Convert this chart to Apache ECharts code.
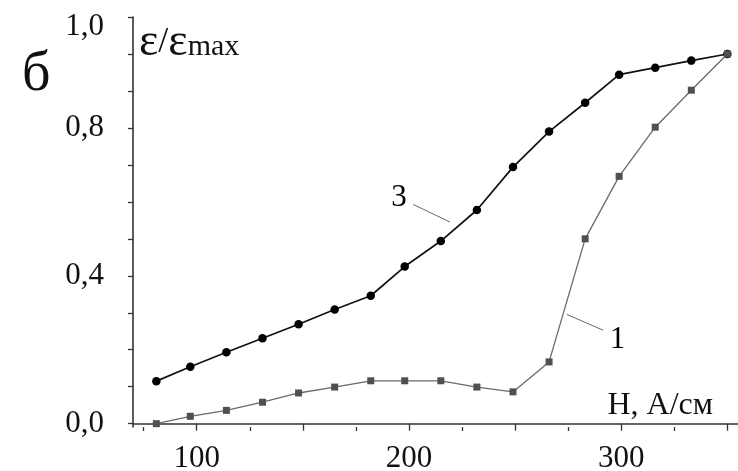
<!DOCTYPE html>
<html>
<head>
<meta charset="utf-8">
<script src="https://cdn.jsdelivr.net/npm/echarts@6/dist/echarts.min.js"></script>
<style>html,body{margin:0;padding:0;background:#fff}#c{width:738px;height:471px}</style>
</head>
<body>
<div id="c"></div>
<script>
// ---- data ----
const H = [81, 97, 114, 131, 148, 165, 182, 198, 215, 232, 249, 266, 283, 299, 316, 333, 350];
const curve3 = [0.115, 0.154, 0.193, 0.231, 0.269, 0.309, 0.346, 0.425, 0.494, 0.578, 0.694, 0.790, 0.868, 0.944, 0.963, 0.982, 1.0];
const curve1 = [0.0, 0.020, 0.036, 0.058, 0.083, 0.099, 0.116, 0.116, 0.116, 0.099, 0.086, 0.167, 0.500, 0.669, 0.802, 0.902, 1.0];
const xMajorTicks = [100, 150, 200, 250, 300, 350];
const xMinorTicks = [75, 125, 175, 225, 275, 325];
const xLabels = [100, 200, 300];
const yTicks = [0, 0.1, 0.2, 0.3, 0.4, 0.5, 0.6, 0.7, 0.8, 0.9, 1.0, 1.1];
const yLabels = [0, 0.4, 0.8, 1.0];
const leader3 = [[202, 0.593], [219.3, 0.5455]];
const leader1 = [[274.3, 0.2958], [291.5, 0.2526]];
const label3 = [195.3, 0.61, '3'];
const label1 = [298.2, 0.228, '1'];

const FONT = 'Liberation Serif';
const TXT = '#111';
const AX = '#333';

const chart = echarts.init(document.getElementById('c'));
const zip = (xs, ys) => xs.map((x, i) => [x, ys[i]]);

chart.setOption({
  animation: false,
  backgroundColor: '#fff',
  title: {
    text: 'б', left: 17, top: 42,
    textStyle: { fontFamily: FONT, fontSize: 56, fontWeight: 'normal', color: TXT }
  },
  grid: { left: 133, top: 17, width: 605, height: 410, outerBoundsMode: 'none', containLabel: false },
  xAxis: [{
    type: 'value', min: 70, max: 355, position: 'bottom',
    splitLine: { show: false },
    axisLine: { show: true, lineStyle: { color: AX, width: 1.6 } },
    axisTick: { show: true, customValues: xMajorTicks, length: 7, lineStyle: { color: AX, width: 1.3 } },
    axisLabel: {
      customValues: xLabels, margin: 16,
      fontFamily: FONT, fontSize: 31, color: TXT,
      formatter: v => String(v)
    },
    name: 'H, A/см', nameLocation: 'end', nameGap: -25,
    nameTextStyle: { fontFamily: FONT, fontSize: 32, color: TXT, align: 'right', verticalAlign: 'bottom', padding: [0, 0, 2, 0] }
  }, {
    type: 'value', min: 70, max: 355, position: 'bottom', gridIndex: 0,
    splitLine: { show: false },
    axisLine: { show: false },
    axisTick: { show: true, customValues: xMinorTicks, length: 4, lineStyle: { color: AX, width: 1.3 } },
    axisLabel: { show: false }
  }],
  yAxis: {
    type: 'value', min: -0.009, max: 1.1,
    splitLine: { show: false },
    axisLine: { show: true, lineStyle: { color: AX, width: 1.6 } },
    axisTick: { show: true, customValues: yTicks, length: 5, lineStyle: { color: AX, width: 1.3 } },
    axisLabel: {
      customValues: yLabels, margin: 29,
      fontFamily: FONT, fontSize: 31, color: TXT,
      formatter: v => {
        const s = v.toFixed(1).replace('.', ',');
        return Math.abs(v - 1) < 1e-9 ? '{up|' + s + '}' : s;
      },
      rich: { up: { fontFamily: FONT, fontSize: 31, color: TXT, padding: [0, 0, 54, 0] } }
    },
    name: '{e|ε}{s|/}{e|ε}{m|max}', nameLocation: 'end', nameGap: -26,
    nameTextStyle: {
      align: 'left', verticalAlign: 'middle', padding: [0, 0, 0, 6],
      rich: {
        e: { fontFamily: FONT, fontSize: 46, color: TXT },
        s: { fontFamily: FONT, fontSize: 36, color: TXT },
        m: { fontFamily: FONT, fontSize: 30, color: TXT, padding: [8, 0, 0, 0] }
      }
    }
  },
  series: [{
    name: '3', type: 'line', data: zip(H, curve3),
    symbol: 'circle', symbolSize: 8.5,
    lineStyle: { color: '#111', width: 1.7 },
    itemStyle: { color: '#000' }, z: 3
  }, {
    name: '1', type: 'line', data: zip(H, curve1),
    symbol: 'rect', symbolSize: 7,
    lineStyle: { color: '#6a6a6a', width: 1.3 },
    itemStyle: { color: '#505050' }, z: 4
  }, {
    type: 'line', data: leader3, symbol: 'none', silent: true,
    lineStyle: { color: '#666', width: 1 }
  }, {
    type: 'line', data: leader1, symbol: 'none', silent: true,
    lineStyle: { color: '#666', width: 1 }
  }, {
    type: 'scatter', symbol: 'circle', symbolSize: 1, silent: true,
    itemStyle: { color: '#111', opacity: 0 },
    emphasis: { disabled: true },
    data: [label3, label1],
    label: {
      show: true, position: 'inside', formatter: p => p.data[2],
      fontFamily: FONT, fontSize: 31, color: '#000', opacity: 1,
      textBorderWidth: 0, textBorderColor: 'transparent'
    },
    z: 5
  }]
});
</script>
</body>
</html>
